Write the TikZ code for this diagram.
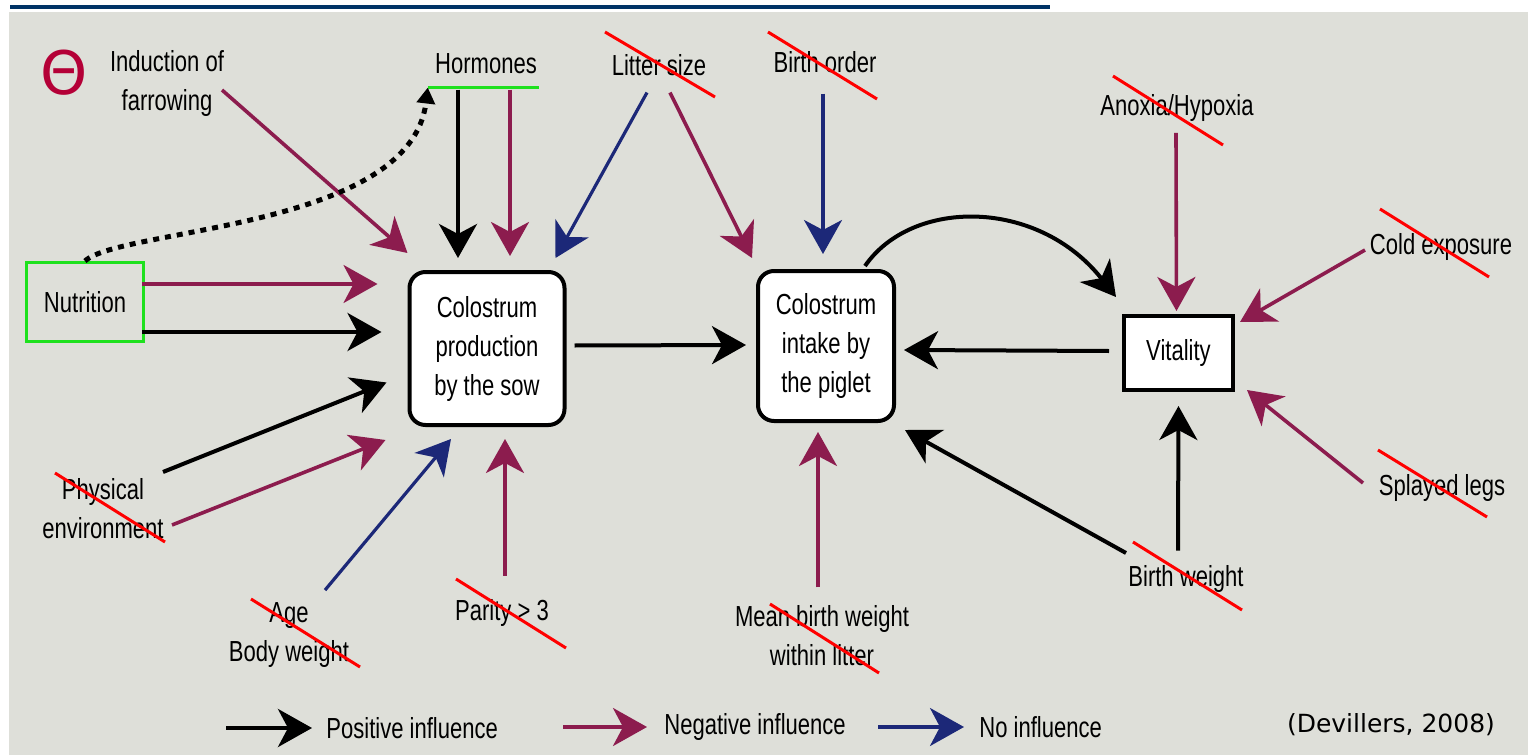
\documentclass[tikz,border=0pt]{standalone}
\usepackage{fontspec}
\setmainfont{Liberation Sans}[FakeStretch=0.76]
\newfontfamily\citefont{DejaVu Sans}
\newfontfamily\signfont{DejaVu Sans}
\usetikzlibrary{arrows.meta,calc}
\definecolor{bggrey}{RGB}{222,223,217}
\definecolor{negcol}{RGB}{140,28,78}
\definecolor{nocol}{RGB}{28,40,120}
\definecolor{linkblue}{RGB}{0,51,102}
\definecolor{boxgreen}{RGB}{30,225,30}
\definecolor{signred}{RGB}{180,0,55}

\begin{document}
\begin{tikzpicture}[x=0.5pt,y=-0.5pt,font=\fontsize{14.5pt}{19.5pt}\selectfont,
    bigtip/.style={-{Stealth[length=17pt,width=19pt,inset=5pt]}},
    infpos/.style={bigtip,draw=black,line width=2pt},
    infneg/.style={bigtip,draw=negcol,line width=1.8pt},
    infnone/.style={bigtip,draw=nocol,line width=1.6pt},
    strike/.style={draw=red,line width=1.5pt},
    lbl/.style={align=center,inner sep=0pt},
    colbox/.style={draw,line width=2pt,rounded corners=8pt,fill=white,align=center,inner sep=0pt}]
        \useasboundingbox (0,0) rectangle (1528,755);
        \fill[bggrey] (9,12) rectangle (1528,755);
        \draw[linkblue,line width=2pt] (10,6.5) -- (1050,6.5);

        % labels
        \node[text=signred,inner sep=0pt,font=\signfont\fontsize{30pt}{30pt}\selectfont] (minus) at (64,73) {Θ};
        \node[lbl] (induct) at (167,84) {Induction of\\farrowing};
        \node[lbl] (horm) at (486,64) {Hormones};
        \node[lbl] (litter) at (659,65) {Litter size};
        \node[lbl] (order) at (825,62) {Birth order};
        \node[lbl] (anox) at (1177,108) {Anoxia/Hypoxia};
        \node[lbl] (cold) at (1441,247) {Cold exposure};
        \node[lbl] (splay) at (1442,488) {Splayed legs};
        \node[lbl] (bw) at (1186,579) {Birth weight};
        \node[lbl] (mbw) at (822,636) {Mean birth weight\\within litter};
        \node[lbl] (parity) at (502,613) {Parity > 3};
        \node[lbl] (age) at (289,635) {Age\\Body weight};
        \node[lbl] (phys) at (103,509) {Physical\\environment};

        % boxes
        \node[draw=boxgreen,line width=1.5pt,minimum width=58.5pt,minimum height=39.5pt] (nutri) at (85,302) {Nutrition};
        \node[colbox,minimum width=77.5pt,minimum height=76.5pt] (prod) at (487,348.5) {Colostrum\\production\\by the sow};
        \node[colbox,minimum width=68pt,minimum height=75pt] (intake) at (826,346) {Colostrum\\intake by\\the piglet};
        \node[draw,line width=2pt,fill=white,minimum width=54.5pt,minimum height=37pt] (vital) at (1178.5,353) {Vitality};
        \draw[boxgreen,line width=1.5pt] ($(horm.south west)+(-7,13)$) -- ($(horm.south east)+(2,13)$);

        % influences on the sow
        \draw[infneg] ($(induct)+(55,6)$) -- ($(prod.north west)+(0,-17)$);
        \draw[infpos] ($(horm.south)+(-28,15)$) -- ($(prod.north)+(-29,-12)$);
        \draw[infneg] ($(horm.south)+(24,15)$) -- ($(prod.north)+(23,-14)$);
        \draw[infnone] ($(litter.south)+(-12,16.5)$) -- ($(prod.north east)+(-11,-12)$);
        \draw[infneg] ($(nutri.east)+(-3,-18)$) -- ($(prod.west)+(-30,-64.5)$);
        \draw[infpos] ($(nutri.east)+(-3,30)$) -- ($(prod.west)+(-26,-16.5)$);
        \draw[line width=2.5pt,dash pattern=on 3pt off 3pt,-{Triangle[length=8pt,width=9pt]}] (nutri.north) .. controls +(35,-33) and +(-17,142) .. ($(horm.south west)+(-7,13)$);
        \draw[infpos] ($(phys)+(60,-37)$) -- ($(prod.west)+(-21,34)$);
        \draw[infneg] ($(phys)+(69,16)$) -- ($(prod.south west)+(-22,13)$);
        \draw[infnone] ($(age.north)+(36,-12)$) -- ($(prod.south)+(-36,12)$);
        \draw[infneg] ($(parity.north)+(3,-23.5)$) -- ($(prod.south)+(18,12)$);

        % influences on the piglet
        \draw[infneg] ($(litter.south)+(11,16.5)$) -- ($(intake.north west)+(-4,-11)$);
        \draw[infnone] ($(order.south)+(-2,20.5)$) -- ($(intake.north)+(-3,-15)$);
        \draw[infpos] ($(prod.east)+(8,-3)$) -- ($(intake.west)+(-10,-1)$);
        \draw[infpos] ($(vital.west)+(-13,-2)$) -- ($(intake.east)+(8,4)$);
        \draw[infpos] ($(intake.north east)+(-31,-3)$) .. controls +(47,-68) and +(-78,-99) .. ($(vital.north west)+(-6,-17)$);
        \draw[infneg] ($(mbw.north)+(-4,-18)$) -- ($(intake.south)+(-8,9)$);
        \draw[infpos] ($(bw)+(-60,-26)$) -- ($(intake.south east)+(9,7)$);

        % influences on vitality
        \draw[infpos] ($(bw.north)+(-8,-14.5)$) -- ($(vital.south)+(0,14)$);
        \draw[infneg] ($(anox.south)+(-1,11)$) -- ($(vital.north)+(-2,-3)$);
        \draw[infneg] ($(cold)+(-76,3)$) -- ($(vital.north east)+(5,8)$);
        \draw[infneg] ($(splay)+(-79,-5)$) -- ($(vital.south east)+(12,-2)$);

        % crossed out factors
        \draw[strike] ($(litter)+(-54,-33)$) -- ($(litter)+(56,32)$);
        \draw[strike] ($(order)+(-57,-30)$) -- ($(order)+(52,37)$);
        \draw[strike] ($(anox)+(-64,-32)$) -- ($(anox)+(46,37)$);
        \draw[strike] ($(cold)+(-61,-38)$) -- ($(cold)+(48,30)$);
        \draw[strike] ($(splay)+(-64,-38)$) -- ($(splay)+(45,29)$);
        \draw[strike] ($(bw)+(-53,-37)$) -- ($(bw)+(56,31)$);
        \draw[strike] ($(mbw)+(-52,-32)$) -- ($(mbw)+(57,37)$);
        \draw[strike] ($(parity)+(-46,-34)$) -- ($(parity)+(64,35)$);
        \draw[strike] ($(age)+(-38,-36)$) -- ($(age)+(71,32)$);
        \draw[strike] ($(phys)+(-48,-36)$) -- ($(phys)+(62,33)$);

        % legend
        \node[lbl,anchor=west] (lpos) at (326,728) {Positive influence};
        \node[lbl,anchor=west] (lneg) at (664,727) {Negative influence};
        \node[lbl,anchor=west] (lnone) at (979,727) {No influence};
        \node[lbl,font=\citefont\fontsize{12.5pt}{15pt}\selectfont] (cite) at (1391,725) {(Devillers, 2008)};
        \draw[infpos] ($(lpos.west)+(-100,0)$) -- ($(lpos.west)+(-14,0)$);
        \draw[infneg] ($(lneg.west)+(-101,0)$) -- ($(lneg.west)+(-17,0)$);
        \draw[infnone] ($(lnone.west)+(-101,0)$) -- ($(lnone.west)+(-15,0)$);
    \end{tikzpicture}
\end{document}
